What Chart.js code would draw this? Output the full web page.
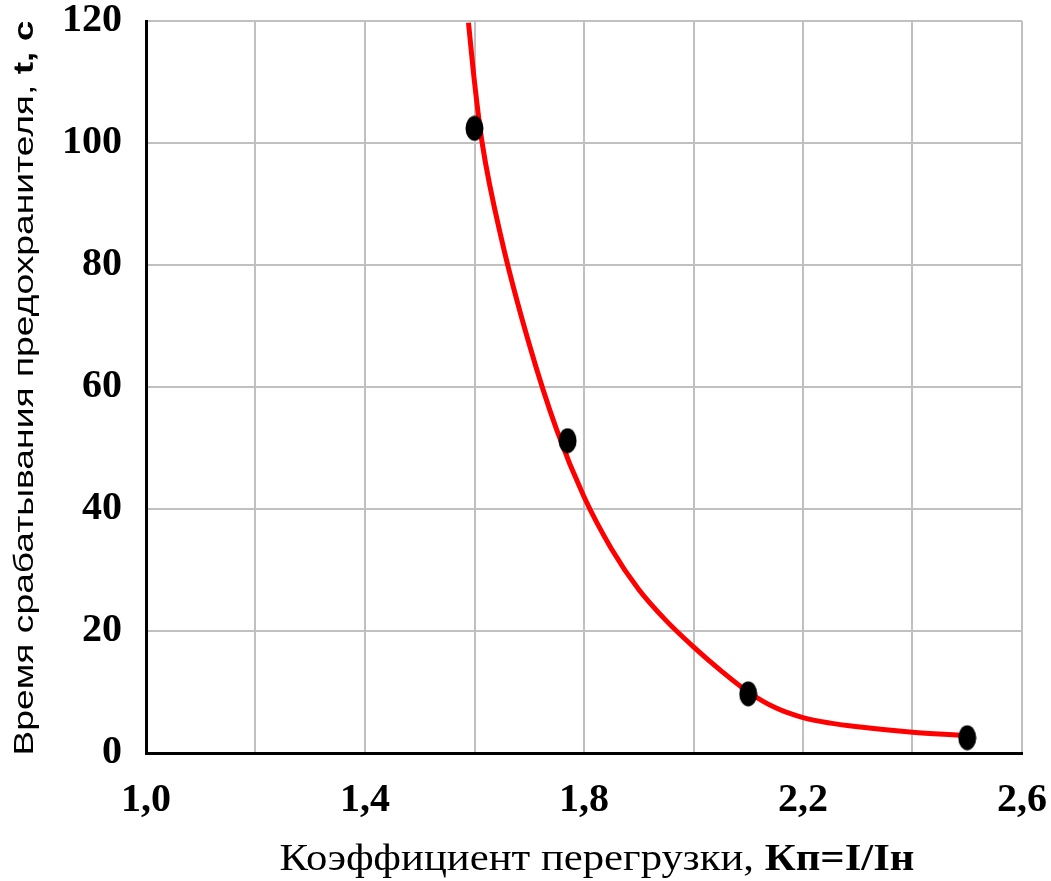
<!DOCTYPE html>
<html>
<head>
<meta charset="utf-8">
<script src="https://cdn.jsdelivr.net/npm/chart.js@4.4.1/dist/chart.umd.min.js"></script>
<style>
  body{margin:0;background:#fff}
  #wrap{width:1051px;height:881px}
</style>
</head>
<body>
<div id="wrap"><canvas id="fuseChart" width="1051" height="881"></canvas></div>
<script>
// measured points (overload factor / trip time)
const fuseK = [1.60, 1.77, 2.10, 2.50]
const fuseT = [102.4, 51.2, 9.7, 2.5]

// fitted curve
const curveK = [1.589, 1.60, 1.614, 1.65, 1.70, 1.75, 1.80, 1.85, 1.90, 1.95, 2.00, 2.05, 2.10, 2.15, 2.20, 2.25, 2.30, 2.40, 2.486]
const curveT = [119.7, 110, 100, 84, 67, 53, 42, 33.5, 26.8, 21.7, 17.4, 13.5, 10.0, 7.4, 5.8, 4.9, 4.3, 3.4, 2.9]

const xTicks = [1.0, 1.4, 1.8, 2.2, 2.6]
const yTicks = [0, 20, 40, 60, 80, 100, 120]

const xTitle = [
    {text:"Коэффициент перегрузки, ", font:"37px 'Liberation Serif'"},
    {text:"Кп=I/Iн", font:"bold 37px 'Liberation Serif'"}
]
const yTitle = [
    {text:"Время срабатывания предохранителя, ", font:"27px 'Liberation Sans'"},
    {text:"t, c", font:"bold 27px 'Liberation Sans'"}
]

// black ellipse used as marker
function ellipseMarker(){
    const c = document.createElement('canvas')
    c.width = 19; c.height = 26
    const g = c.getContext('2d')
    g.fillStyle = '#000'
    g.beginPath()
    g.ellipse(9.5, 13, 9, 12.5, 0, 0, Math.PI*2)
    g.fill()
    return c
}

// draw text runs centred at 0, squeezed/stretched to a given width
function drawRuns(ctx, runs, width){
    let total = 0
    runs.forEach(r=>{ ctx.font = r.font; r.w = ctx.measureText(r.text).width; total += r.w })
    ctx.scale(width/total, 1)
    let x = -total/2
    ctx.fillStyle = '#000'
    ctx.textBaseline = 'alphabetic'
    ctx.textAlign = 'left'
    runs.forEach(r=>{ ctx.font = r.font; ctx.fillText(r.text, x, 0); x += r.w })
}

const titlesPlugin = {
    id:'titles',
    afterDraw(chart){
        const ctx = chart.ctx
        ctx.save()
        ctx.translate(597, 870)
        drawRuns(ctx, xTitle, 635)
        ctx.restore()

        ctx.save()
        ctx.translate(33, 388)
        ctx.rotate(-Math.PI/2)
        drawRuns(ctx, yTitle, 735)
        ctx.restore()
    }
}

const bgPlugin = {
    id:'bg',
    beforeDraw(chart){
        const ctx = chart.ctx
        ctx.save()
        ctx.fillStyle = '#fff'
        ctx.fillRect(0, 0, chart.width, chart.height)
        ctx.restore()
    }
}

const fmt = v => v.toFixed(1).replace('.', ',')
const tickFont = {family:"'Liberation Serif'", size:40, weight:'bold'}

new Chart(document.getElementById('fuseChart').getContext('2d'), {
    type:'scatter',
    data:{
        datasets:[
            {
                label:'points',
                data:fuseK.map((k,i)=>({x:k, y:fuseT[i]})),
                pointStyle:ellipseMarker(),
                pointRadius:10,
                showLine:false
            },
            {
                label:'curve',
                data:curveK.map((k,i)=>({x:k, y:curveT[i]})),
                showLine:true,
                borderColor:'#ff0000',
                borderWidth:5,
                pointRadius:0,
                cubicInterpolationMode:'monotone',
                borderCapStyle:'butt'
            }
        ]
    },
    options:{
        responsive:false,
        animation:false,
        events:[],
        layout:{padding:{top:21, right:29, left:0, bottom:0}},
        plugins:{
            legend:{display:false},
            tooltip:{enabled:false}
        },
        scales:{
            x:{
                type:'linear',
                min:1.0,
                max:2.6,
                afterBuildTicks(scale){
                    const ticks = []
                    for(let i=0;i<=8;i++) ticks.push({value:+(1.0+i*0.2).toFixed(1)})
                    scale.ticks = ticks
                },
                afterFit(scale){
                    scale.height = 128
                    scale.paddingLeft = 0
                    scale.paddingRight = 0
                },
                grid:{color:'#c0c0c0', lineWidth:2, drawTicks:false},
                border:{color:'#000', width:3},
                ticks:{
                    padding:24,
                    maxRotation:0,
                    autoSkip:false,
                    color:'#000',
                    font:tickFont,
                    callback:v => xTicks.some(t=>Math.abs(t-v)<1e-6) ? fmt(v) : ''
                }
            },
            y:{
                min:0,
                max:120,
                afterBuildTicks(scale){ scale.ticks = yTicks.map(v=>({value:v})) },
                afterFit(scale){
                    scale.width = 146
                    scale.paddingTop = 0
                    scale.paddingBottom = 0
                },
                grid:{color:'#c0c0c0', lineWidth:2, drawTicks:false},
                border:{color:'#000', width:3},
                ticks:{
                    padding:24,
                    color:'#000',
                    font:tickFont
                }
            }
        }
    },
    plugins:[bgPlugin, titlesPlugin]
})
</script>
</body>
</html>
